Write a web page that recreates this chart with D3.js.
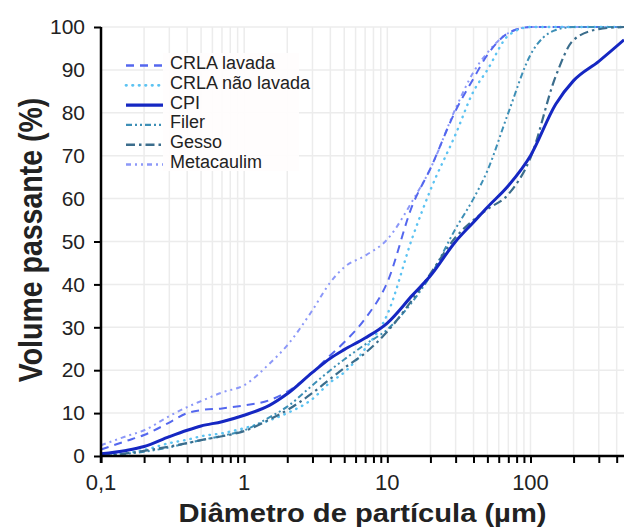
<!DOCTYPE html>
<html>
<head>
<meta charset="utf-8">
<script src="https://cdn.jsdelivr.net/npm/d3@7"></script>
<style>
  body { margin: 0; background: #fff; }
  svg { display: block; font-family: "Liberation Sans", Arial, sans-serif; }
</style>
</head>
<body>
<div id="chart"></div>
<script>
// particle size (µm) where each curve was read
var sizes = [0.1, 0.15, 0.2, 0.3, 0.4, 0.5, 0.7, 1, 1.5, 2, 3, 4, 5, 7, 10, 15, 20, 30, 40, 50, 70, 100, 150, 200, 300, 450];

var crlaLavada    = [1.5, 3.5, 4.9, 7.8, 10, 10.7, 11.1, 11.8, 13, 15, 19.5, 23.5, 26.5, 32, 40.5, 58.5, 67, 80.5, 88, 93.5, 98.6, 100, 100, 100, 100, 100];
var crlaNaoLavada = [0.3, 0.7, 1.4, 3, 3.8, 4.6, 5.3, 6.5, 8.3, 10, 13.3, 17.2, 19.5, 25, 33, 51, 62, 75, 85, 90, 98, 100, 100, 100, 100, 100];
var cpi           = [0.5, 1.3, 2.2, 4.5, 6, 7, 8, 9.5, 11.8, 14.5, 19.5, 22.8, 24.8, 27.5, 31, 37.5, 42, 50, 54.5, 58, 63, 70, 82, 87.5, 92, 97];
var filer         = [0, 0.5, 1, 2, 3, 3.7, 4.7, 6, 9, 11.5, 16.5, 20, 22.5, 26, 29.5, 36, 42, 53, 60, 66.5, 80, 93.5, 99.3, 100, 100, 100];
var gesso         = [0, 0.6, 1.2, 2.2, 3, 3.7, 4.6, 5.8, 8.5, 10.7, 14.7, 18, 20.5, 24, 29, 36.5, 42.5, 51, 55, 57.5, 61, 69.5, 88.5, 97, 99.5, 100];
var metacaulim    = [2.5, 4.6, 6, 9.3, 11.4, 12.8, 14.8, 16.5, 21.5, 25.8, 34, 40.5, 44, 46.7, 50.5, 59.5, 67, 81, 89.5, 94, 98.6, 100, 100, 100, 100, 100];

var seriesNames = ["CRLA lavada", "CRLA não lavada", "CPI", "Filer", "Gesso", "Metacaulim"];
var seriesValues = [crlaLavada, crlaNaoLavada, cpi, filer, gesso, metacaulim];

var xTicks = [0.1, 1, 10, 100];
var xTickLabels = ["0,1", "1", "10", "100"];
var yTicks = [0, 10, 20, 30, 40, 50, 60, 70, 80, 90, 100];

var styles = [
    { color: "#5467ee", width: 2, dash: "8,6" },
    { color: "#5cc3f2", width: 2.4, dash: "0.5,6", cap: "round" },
    { color: "#1527c2", width: 3, dash: null },
    { color: "#3d8fb6", width: 2, dash: "6,3,2,3,2,3" },
    { color: "#3b6d8c", width: 2.2, dash: "9,4,2.5,4" },
    { color: "#8c98f8", width: 2, dash: "5,4,2,4,2,4" }
];

var margin = { top: 27, right: 0, bottom: 74, left: 101 };
var width = 624 - margin.left - margin.right;
var height = 530 - margin.top - margin.bottom;

var svg = d3.select("#chart").append("svg")
    .attr("width", 624)
    .attr("height", 530);

var g = svg.append("g")
    .attr("transform", "translate(" + margin.left + "," + margin.top + ")");

var x_scale = d3.scaleLog().domain([0.1, 450]).range([0, width]);
var y_scale = d3.scaleLinear().domain([0, 100]).range([height, 0]);

// minor log ticks for grid and axis
var minorTicks = [];
[0.1, 1, 10, 100].forEach(function(dec) {
    for (var k = 1; k < 10; k++) {
        var v = dec * k;
        if (v <= 450) minorTicks.push(+v.toPrecision(3));
    }
});

// grid
g.append("g").selectAll("line.vg")
    .data(minorTicks)
    .enter().append("line")
    .attr("x1", function(d) { return x_scale(d); })
    .attr("x2", function(d) { return x_scale(d); })
    .attr("y1", 0).attr("y2", height)
    .style("stroke", "#ececec").style("stroke-width", 1.5);

g.append("g").selectAll("line.hg")
    .data(yTicks)
    .enter().append("line")
    .attr("x1", 0).attr("x2", width)
    .attr("y1", function(d) { return y_scale(d); })
    .attr("y2", function(d) { return y_scale(d); })
    .style("stroke", "#ececec").style("stroke-width", 1.5);

// curves
svg.append("clipPath").attr("id", "clip")
    .append("rect").attr("x", -2).attr("y", -2).attr("width", width + 2).attr("height", height + 2);

var line = d3.line()
    .x(function(d) { return x_scale(d[0]); })
    .y(function(d) { return y_scale(d[1]); })
    .curve(d3.curveMonotoneX);

var drawOrder = [5, 0, 1, 3, 4, 2];
drawOrder.forEach(function(i) {
    var pts = sizes.map(function(s, j) { return [s, seriesValues[i][j]]; });
    g.append("path")
        .attr("clip-path", "url(#clip)")
        .attr("d", line(pts))
        .style("fill", "none")
        .style("stroke", styles[i].color)
        .style("stroke-width", styles[i].width)
        .style("stroke-dasharray", styles[i].dash)
        .style("stroke-linecap", styles[i].cap || "butt");
});

// legend
var legend = g.append("g");
legend.append("rect")
    .attr("x", 62).attr("y", 26)
    .attr("width", 136).attr("height", 118)
    .style("fill", "#fffdfd").style("opacity", 0.92);

seriesNames.forEach(function(name, i) {
    var cy = 35.5 + i * 19.8;
    legend.append("line")
        .attr("x1", 25).attr("x2", 62)
        .attr("y1", cy + 3).attr("y2", cy + 3)
        .style("stroke", styles[i].color)
        .style("stroke-width", styles[i].width + 0.4)
        .style("stroke-dasharray", styles[i].dash)
        .style("stroke-linecap", styles[i].cap || "butt");
    legend.append("text")
        .attr("x", 69).attr("y", cy + 6.5)
        .style("font-size", "18px")
        .style("fill", "#222")
        .text(name);
});

// x axis
var xAxis = g.append("g")
    .attr("transform", "translate(0," + height + ")")
    .call(d3.axisBottom(x_scale).tickValues(minorTicks).tickSize(7).tickFormat(""));
xAxis.select(".domain").attr("d", "M0,0H" + width);
xAxis.selectAll("line").style("stroke-width", 2);
xAxis.select(".domain").style("stroke-width", 2.5);

g.append("g").selectAll("text.xl")
    .data(xTicks)
    .enter().append("text")
    .attr("x", function(d) { return x_scale(d); })
    .attr("y", height + 34)
    .attr("text-anchor", "middle")
    .style("font-size", "22px")
    .style("fill", "#222")
    .text(function(d, i) { return xTickLabels[i]; });

// y axis
var yAxis = g.append("g")
    .call(d3.axisLeft(y_scale).tickValues(yTicks).tickSize(7).tickPadding(9));
yAxis.select(".domain").attr("d", "M0," + (height + 7) + "V0");
yAxis.select(".domain").style("stroke-width", 2.5);
yAxis.selectAll(".tick line")
    .style("stroke-width", 2)
    .style("display", function(d) { return (d > 50 && d < 100) ? "none" : null; });
yAxis.selectAll(".tick text")
    .style("font-size", "21px")
    .style("fill", "#222")
    .style("font-family", "'Liberation Sans', Arial, sans-serif");

// axis titles
svg.append("text")
    .attr("x", margin.left + width / 2)
    .attr("y", 522)
    .attr("text-anchor", "middle")
    .attr("textLength", 368)
    .attr("lengthAdjust", "spacingAndGlyphs")
    .style("font-size", "25px")
    .style("font-weight", "bold")
    .style("fill", "#222")
    .text("Diâmetro de partícula (µm)");

svg.append("text")
    .attr("text-anchor", "middle")
    .attr("transform", "translate(42,240)rotate(-90)scale(1,1.18)")
    .style("font-size", "28.5px")
    .style("font-weight", "bold")
    .style("fill", "#222")
    .text("Volume passante (%)");
</script>
</body>
</html>
